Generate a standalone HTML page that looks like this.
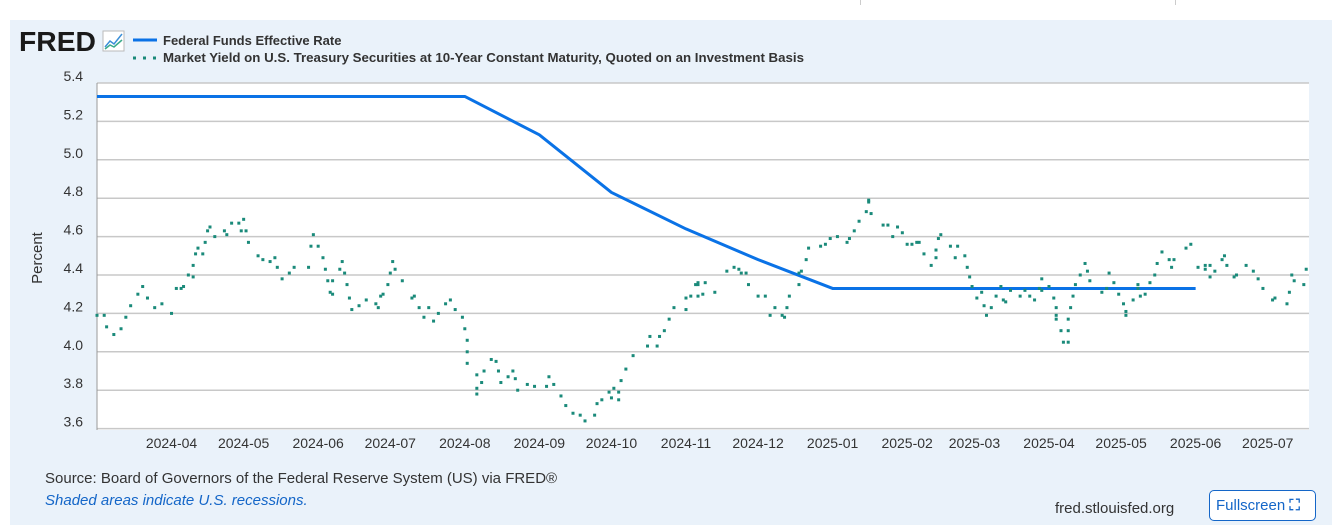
<!DOCTYPE html>
<html><head><meta charset="utf-8">
<style>
body{margin:0;width:1332px;height:525px;background:#fff;font-family:"Liberation Sans",sans-serif;overflow:hidden;position:relative}
#panel{position:absolute;left:10px;top:20px;width:1322px;height:505px;background:#eaf2fa}
.t{position:absolute;white-space:nowrap}
</style></head><body>
<div style="position:absolute;left:860px;top:0;width:1px;height:5px;background:#ccc"></div>
<div style="position:absolute;left:1175px;top:0;width:1px;height:5px;background:#ccc"></div>
<div id="panel"></div>
<svg id="chart" width="1332" height="525" style="position:absolute;left:0;top:0">
<g>
<text x="19" y="51" font-family="Liberation Sans" font-weight="bold" font-size="28" fill="#1a1a1a" textLength="77" lengthAdjust="spacingAndGlyphs">FRED</text>
<rect x="103" y="31" width="21" height="20" fill="#fff" stroke="#bbb"/>
<polyline points="105,47 110,41 114,44 122,34" fill="none" stroke="#3b8fd8" stroke-width="1.5"/>
<polyline points="105,49 110,45 114,47 122,40" fill="none" stroke="#3aaa8a" stroke-width="1.5"/>
</g>
<g>
<line x1="133" y1="40" x2="157" y2="40" stroke="#0a72e6" stroke-width="3"/>
<text x="163" y="45" font-size="13" font-weight="bold" fill="#333">Federal Funds Effective Rate</text>
</g>
<g>
<line x1="133" y1="58" x2="157" y2="58" stroke="#1a8a7a" stroke-width="3" stroke-dasharray="3,7"/>
<text x="163" y="62" font-size="13" font-weight="bold" fill="#333" textLength="641" lengthAdjust="spacingAndGlyphs">Market Yield on U.S. Treasury Securities at 10-Year Constant Maturity, Quoted on an Investment Basis</text>
</g>
<rect x="97" y="83" width="1212" height="347" fill="#fff"/>
<g id="grid"></g><g id="yt"></g><g id="xt"></g>
<line x1="97" y1="83" x2="97" y2="430" stroke="#999" stroke-width="1"/>
<text x="42" y="258" font-size="15" fill="#333" text-anchor="middle" transform="rotate(-90 42 258)">Percent</text>
<g id="series"></g>
</svg>
<div class="t" style="left:45px;top:470px;font-size:15px;color:#333">Source: Board of Governors of the Federal Reserve System (US) via FRED®</div>
<div class="t" style="left:45px;top:492px;font-size:15px;color:#1466c8;font-style:italic">Shaded areas indicate U.S. recessions.</div>
<div class="t" style="left:1055px;top:500px;font-size:15px;color:#333">fred.stlouisfed.org</div>
<div class="t" style="left:1209px;top:490px;width:105px;height:29px;border:1px solid #1466c8;border-radius:5px;background:#fff;color:#1466c8;font-size:15px;line-height:29px;text-indent:6px">Fullscreen <span style="font-weight:bold">⛶</span></div>
<script>
const yTicks=[3.6,3.8,4.0,4.2,4.4,4.6,4.8,5.0,5.2,5.4];
const xTickLabels=["2024-04","2024-05","2024-06","2024-07","2024-08","2024-09","2024-10","2024-11","2024-12","2025-01","2025-02","2025-03","2025-04","2025-05","2025-06","2025-07"];
const ffDates=["2024-03-01","2024-04-01","2024-05-01","2024-06-01","2024-07-01","2024-08-01","2024-09-01","2024-10-01","2024-11-01","2024-12-01","2025-01-01","2025-02-01","2025-03-01","2025-04-01","2025-05-01","2025-06-01"];
const ffValues=[5.33,5.33,5.33,5.33,5.33,5.33,5.13,4.83,4.64,4.48,4.33,4.33,4.33,4.33,4.33,4.33];
// 10-year yield: days since 2024-03-01
const dgsDays=[0,3,4,7,10,12,14,17,19,21,24,27,31,33,35,36,38,40,40,41,42,44,45,46,47,49,53,54,56,59,60,61,62,63,67,69,72,74,75,77,80,82,88,89,90,92,94,95,96,97,98,98,101,102,103,104,105,106,109,112,116,117,118,119,121,122,123,124,127,131,132,134,136,138,140,142,145,147,149,152,153,154,154,154,158,158,158,160,161,164,166,167,168,171,173,174,175,179,182,187,188,190,193,195,198,201,203,207,208,210,213,214,215,217,217,218,220,223,229,230,233,234,236,238,240,245,245,247,249,250,250,252,253,250,257,262,265,267,268,270,271,275,278,280,282,285,286,287,288,292,292,293,295,296,301,303,305,308,312,313,315,317,320,321,321,322,327,329,331,333,335,337,339,341,342,344,347,349,349,350,351,355,357,358,361,362,363,364,366,368,369,370,372,374,376,377,378,380,384,386,388,390,392,393,393,396,398,399,399,399,401,402,404,404,404,405,406,407,409,411,412,413,418,420,421,423,425,427,428,428,431,433,433,434,436,438,440,441,443,446,447,448,453,455,458,461,461,463,463,465,468,469,470,473,474,478,481,483,485,489,490,495,496,497,498,502,503];
const dgsValues=[4.19,4.19,4.13,4.09,4.12,4.18,4.24,4.30,4.34,4.28,4.23,4.25,4.20,4.33,4.33,4.34,4.40,4.39,4.45,4.51,4.54,4.51,4.57,4.63,4.65,4.60,4.63,4.61,4.67,4.67,4.63,4.69,4.63,4.57,4.50,4.48,4.47,4.49,4.44,4.38,4.41,4.44,4.44,4.55,4.61,4.55,4.49,4.43,4.37,4.31,4.30,4.37,4.43,4.47,4.41,4.35,4.28,4.22,4.24,4.27,4.25,4.23,4.29,4.30,4.35,4.41,4.47,4.43,4.37,4.28,4.29,4.23,4.18,4.23,4.16,4.20,4.25,4.27,4.22,4.18,4.12,4.06,4.00,3.94,3.88,3.81,3.78,3.84,3.90,3.96,3.95,3.90,3.84,3.87,3.90,3.86,3.80,3.83,3.82,3.82,3.87,3.83,3.77,3.72,3.68,3.67,3.64,3.67,3.73,3.75,3.79,3.76,3.81,3.75,3.79,3.85,3.91,3.98,4.03,4.08,4.03,4.08,4.11,4.17,4.23,4.22,4.28,4.29,4.35,4.35,4.29,4.30,4.36,4.36,4.31,4.42,4.44,4.43,4.41,4.41,4.35,4.29,4.29,4.19,4.23,4.19,4.18,4.23,4.29,4.35,4.41,4.42,4.48,4.54,4.55,4.56,4.59,4.60,4.57,4.59,4.63,4.68,4.73,4.79,4.78,4.72,4.66,4.66,4.60,4.65,4.62,4.56,4.56,4.57,4.57,4.51,4.45,4.49,4.53,4.59,4.61,4.55,4.49,4.55,4.50,4.44,4.39,4.34,4.28,4.31,4.24,4.19,4.23,4.29,4.34,4.27,4.26,4.32,4.29,4.32,4.29,4.27,4.33,4.32,4.38,4.34,4.28,4.23,4.19,4.17,4.11,4.05,4.05,4.11,4.17,4.23,4.29,4.35,4.40,4.46,4.42,4.37,4.31,4.33,4.41,4.36,4.30,4.25,4.19,4.21,4.27,4.33,4.35,4.29,4.30,4.36,4.40,4.46,4.52,4.48,4.44,4.48,4.54,4.56,4.44,4.45,4.43,4.45,4.39,4.42,4.48,4.50,4.45,4.39,4.40,4.45,4.42,4.38,4.33,4.27,4.28,4.25,4.31,4.40,4.37,4.35,4.43,4.45,4.49];

const NS="http://www.w3.org/2000/svg";
const START=Date.UTC(2024,2,1), DAY=86400000;
const X0=97, PXDAY=2.404, Y0=83, PXUNIT=192;
function xDays(d){return X0+d*PXDAY;}
function xDate(s){const p=s.split("-");return xDays((Date.UTC(+p[0],+p[1]-1,+(p[2]||1))-START)/DAY);}
function yV(v){return Y0+(5.4-v)*PXUNIT;}
function mk(tag,attrs,parent){const e=document.createElementNS(NS,tag);for(const k in attrs)e.setAttribute(k,attrs[k]);parent.appendChild(e);return e;}
const grid=document.getElementById("grid"),yt=document.getElementById("yt"),xt=document.getElementById("xt"),ser=document.getElementById("series");
yTicks.forEach(v=>{
  const l=mk("line",{x1:97,x2:1309,y1:yV(v),y2:yV(v),stroke:"#c8c8c8","stroke-width":1.5},grid);
  
  
  const t=mk("text",{x:83,y:yV(v)-2,"text-anchor":"end","font-size":14,fill:"#333"},yt);
  t.textContent=v.toFixed(1);
  
  
});
xTickLabels.forEach(s=>{
  const x=xDate(s+"-01");
  const t=mk("text",{x:x,y:448,"text-anchor":"middle","font-size":14,fill:"#333"},xt);
  t.textContent=s;
  
  
});
const ffPts=ffDates.map((d,i)=>xDate(d)+","+yV(ffValues[i])).join(" ");
const ff=mk("polyline",{points:ffPts,fill:"none",stroke:"#0a72e6","stroke-width":3,"stroke-linejoin":"round"},ser);


const g=mk("g",{fill:"#1a8a7a"},ser);


dgsDays.forEach((d,i)=>{
  const r=mk("rect",{x:xDays(d)-1.5,y:yV(dgsValues[i])-1.5,width:3,height:3},g);
  
  
});
</script>
</body></html>
